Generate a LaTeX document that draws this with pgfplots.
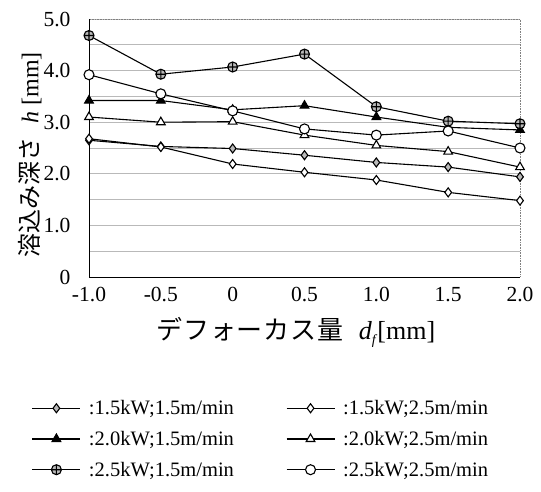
\documentclass[border=0pt]{standalone}
\usepackage{fontspec}
\setmainfont{Liberation Serif}
\newfontfamily\cjk{Noto Sans CJK JP}
\newfontfamily\cjkx[LetterSpace=3]{Noto Sans CJK JP}
\usepackage{pgfplots}
\pgfplotsset{compat=1.18}
\begin{document}
\begin{tikzpicture}
\path (0pt,0pt) rectangle (541pt,491pt);
\begin{axis}[
  at={(89pt,214pt)}, anchor=south west,
  scale only axis, width=431pt, height=258pt,
  xmin=-1, xmax=2, ymin=0, ymax=5,
  xtick={-1,-0.5,0,0.5,1,1.5,2},
  xticklabels={-1.0,-0.5,0,0.5,1.0,1.5,2.0},
  ytick={0,1,2,3,4,5},
  yticklabels={0,1.0,2.0,3.0,4.0,5.0},
  minor ytick={0.5,1.5,2.5,3.5,4.5},
  ymajorgrids, yminorgrids,
  major grid style={gray!55, line width=0.8pt},
  minor grid style={gray!55, line width=0.8pt},
  major tick length=0pt, minor tick length=0pt,
  /pgf/number format/assume math mode=true,
  tick label style={font=\fontsize{21.5}{24}\selectfont},
  xticklabel style={yshift=-7pt},
  yticklabel style={xshift=-15pt},
  axis line style={gray, densely dotted, line width=0.6pt},
  xlabel={{\cjkx デフォーカス量}\hspace{0.6em}\textit{d}\raisebox{-0.35ex}{\fontsize{14}{16}\selectfont\textit{f}}[mm]},
  xlabel style={font=\fontsize{26}{28}\selectfont, at={(rel axis cs:0.48,-0.215)}, anchor=center},
  ylabel={{\cjk 溶込み深さ}\hspace{0.6em}\textit{h} [mm]},
  ylabel style={font=\fontsize{24}{28}\selectfont, at={(rel axis cs:-0.137,0.473)}, anchor=center, rotate=0},
  legend columns=2,
  legend cell align=left,
  legend style={draw=none, fill=none, at={(rel axis cs:-0.14,-0.462)}, anchor=north west,
    font=\fontsize{20.5}{24}\selectfont, row sep=11pt,
    /tikz/every odd column/.append style={column sep=6pt},
    /tikz/every even column/.append style={column sep=50pt}},
  legend image code/.code={\draw[mark repeat=2,mark phase=2] plot coordinates {(0pt,0pt) (24pt,0pt) (48pt,0pt)};},
  every axis plot/.append style={black, line width=1.1pt, mark options={solid, line width=0.7pt}},
]
\addplot[mark=diamond*, mark size=4.5pt, mark options={fill=gray!55}] coordinates {(-1,2.65) (-0.5,2.53) (0,2.49) (0.5,2.36) (1,2.22) (1.5,2.13) (2,1.94)};
\addlegendentry{:1.5kW;1.5m/min}
\addplot[mark=diamond*, mark size=4.5pt, mark options={fill=white}] coordinates {(-1,2.68) (-0.5,2.52) (0,2.19) (0.5,2.03) (1,1.88) (1.5,1.64) (2,1.48)};
\addlegendentry{:1.5kW;2.5m/min}
\addplot[mark=triangle*, mark size=5pt, mark options={fill=black}] coordinates {(-1,3.42) (-0.5,3.42) (0,3.24) (0.5,3.32) (1,3.10) (1.5,2.90) (2,2.85)};
\addlegendentry{:2.0kW;1.5m/min}
\addplot[mark=triangle*, mark size=5pt, mark options={fill=white}] coordinates {(-1,3.10) (-0.5,3.00) (0,3.01) (0.5,2.75) (1,2.55) (1.5,2.43) (2,2.13)};
\addlegendentry{:2.0kW;2.5m/min}
\addplot[mark=oplus*, mark size=5pt, mark options={fill=gray!55}] coordinates {(-1,4.68) (-0.5,3.93) (0,4.07) (0.5,4.32) (1,3.30) (1.5,3.02) (2,2.97)};
\addlegendentry{:2.5kW;1.5m/min}
\addplot[mark=*, mark size=5pt, mark options={fill=white}] coordinates {(-1,3.92) (-0.5,3.55) (0,3.22) (0.5,2.87) (1,2.75) (1.5,2.83) (2,2.50)};
\addlegendentry{:2.5kW;2.5m/min}
\draw[black, line width=0.8pt] (rel axis cs:0,1) -- (rel axis cs:0,0) -- (rel axis cs:1,0);
\end{axis}
\end{tikzpicture}
\end{document}
